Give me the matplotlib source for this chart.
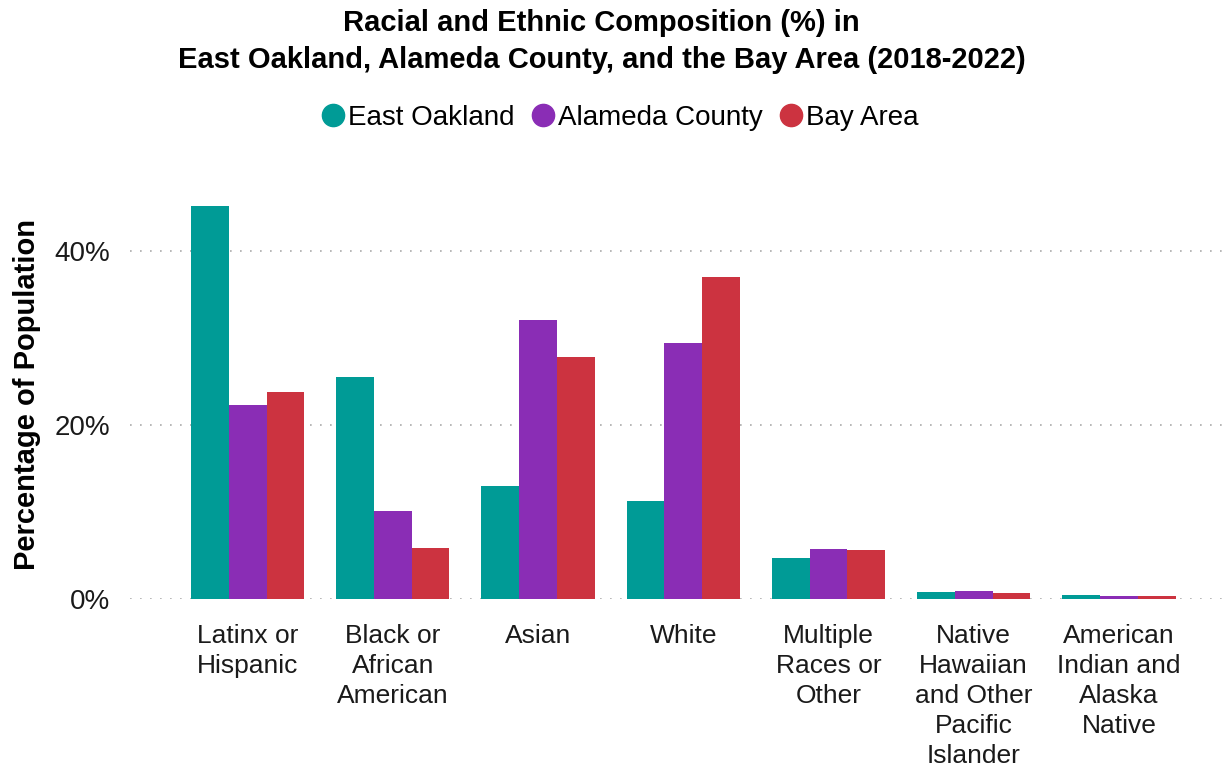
import numpy as np
import matplotlib.pyplot as plt
from matplotlib.lines import Line2D

plt.rcParams['font.family'] = ['Liberation Sans', 'DejaVu Sans']

categories = ["Latinx or\nHispanic", "Black or\nAfrican\nAmerican", "Asian", "White",
              "Multiple\nRaces or\nOther", "Native\nHawaiian\nand Other\nPacific\nIslander",
              "American\nIndian and\nAlaska\nNative"]
east_oakland = [45.2, 25.5, 13.0, 11.3, 4.7, 0.8, 0.45]
alameda_county = [22.3, 10.1, 32.1, 29.4, 5.7, 0.9, 0.4]
bay_area = [23.8, 5.9, 27.8, 37.0, 5.6, 0.7, 0.3]

series = ["East Oakland", "Alameda County", "Bay Area"]
colors = ["#009b96", "#8a2db5", "#cc3340"]

fig = plt.figure(figsize=(12.23, 7.67), dpi=100)
ax = fig.add_axes([130 / 1223, (767 - 599) / 767, 1092 / 1223, (599 - 190) / 767])

x = np.arange(len(categories))
w = 0.26
for i, (vals, c) in enumerate(zip([east_oakland, alameda_county, bay_area], colors)):
    ax.bar(x + (i - 1) * w, vals, width=w, color=c, zorder=3)

ax.set_xlim(-0.81, 6.71)
ax.set_ylim(0, 47)
ax.set_yticks([0, 20, 40])
ax.set_yticklabels(["0%", "20%", "40%"], fontsize=20)
ax.set_xticks(x)
ax.set_xticklabels(categories, fontsize=19, linespacing=1.32, va='top')
ax.tick_params(axis='both', length=0, colors='#1a1a1a')
ax.tick_params(axis='x', pad=18)
ax.tick_params(axis='y', pad=14)
ax.grid(axis='y', color='#aaaaaa', linestyle=(0, (1, 5)), linewidth=1.2, zorder=0)
for s in ax.spines.values():
    s.set_visible(False)

ax.set_ylabel("Percentage of Population", fontsize=21, fontweight='bold', labelpad=10)

fig.text(0.492, 0.988, "Racial and Ethnic Composition (%) in\nEast Oakland, Alameda County, and the Bay Area (2018-2022)",
         ha='center', va='top', fontsize=21, fontweight='bold', linespacing=1.38)

handles = [Line2D([], [], marker='o', linestyle='', markersize=16, color=c) for c in colors]
fig.legend(handles, series, loc='center', bbox_to_anchor=(0.506, 0.846), ncol=3, frameon=False,
           fontsize=20, handletextpad=0.05, columnspacing=0.5, handlelength=1.0)

fig.savefig("out.png", dpi=100)
